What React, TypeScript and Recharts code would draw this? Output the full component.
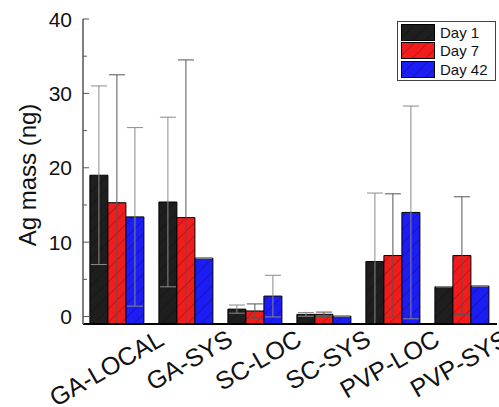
import { Bar, BarChart, ErrorBar, Legend, XAxis, YAxis } from "recharts";

const categories = ["GA-LOCAL", "GA-SYS", "SC-LOC", "SC-SYS", "PVP-LOC", "PVP-SYS"];
const day1 = [19.0, 15.4, 1.0, 0.3, 7.4, 4.0];
const day7 = [15.3, 13.3, 0.75, 0.3, 8.2, 8.2];
const day42 = [13.4, 7.85, 2.75, 0.05, 14.0, 4.1];
const err1 = [12.0, 11.4, 0.55, 0.25, 9.2, 0];
const err7 = [17.2, 21.2, 0.95, 0.3, 8.3, 7.9];
const err42 = [12.0, 0, 2.8, 0, 14.3, 0];
const yTicks = [0, 5, 10, 15, 20, 25, 30, 35, 40];

const Y_MIN = -1;
const Y_MAX = 40;
const FONT = "Arial, 'Liberation Sans', sans-serif";

const series = [
  { key: "day1", err: "e1", name: "Day 1", color: "#1e1e1e", errColor: "#8a8a8a" },
  { key: "day7", err: "e7", name: "Day 7", color: "#f21c1c", errColor: "#555555" },
  { key: "day42", err: "e42", name: "Day 42", color: "#1c1cf5", errColor: "#888888" },
];

// the plot clips error bars at the bottom axis, so the lower arm stops there
const arm = (value: number, err: number) => [Math.min(err, value - Y_MIN), err];

const data = categories.map((name, i) => ({
  name,
  day1: day1[i],
  day7: day7[i],
  day42: day42[i],
  e1: arm(day1[i], err1[i]),
  e7: arm(day7[i], err7[i]),
  e42: arm(day42[i], err42[i]),
}));

function HatchDefs() {
  return (
    <svg width={0} height={0} style={{ position: "absolute" }}>
      <defs>
        {series.map((s) => (
          <pattern
            key={s.key}
            id={`hatch-${s.key}`}
            patternUnits="userSpaceOnUse"
            width={9.5}
            height={9.5}
            patternTransform="rotate(45)"
          >
            <rect width={9.5} height={9.5} fill={s.color} />
            <line x1={0} y1={0} x2={0} y2={9.5} stroke="#000" strokeWidth={1} strokeOpacity={0.45} />
          </pattern>
        ))}
      </defs>
    </svg>
  );
}

function YTick({ x, y, payload }: any) {
  const axisX = x + 11;
  const major = payload.value % 10 === 0;
  return (
    <g>
      <line x1={axisX} x2={axisX + (major ? 6 : 4)} y1={y} y2={y} stroke="#555" strokeWidth={1} />
      {major && (
        <text x={x} y={y} textAnchor="end" dominantBaseline="central" fontSize={21} fill="#111" fontFamily={FONT}>
          {payload.value}
        </text>
      )}
    </g>
  );
}

function XTick({ x, y, payload }: any) {
  const tx = x + 48;
  const ty = y + 20;
  return (
    <text
      x={tx}
      y={ty}
      textAnchor="end"
      fontSize={25}
      fill="#111"
      fontFamily={FONT}
      transform={`rotate(-30, ${tx}, ${ty})`}
    >
      {payload.value}
    </text>
  );
}

function YLabel() {
  return (
    <text
      x={27}
      y={175}
      textAnchor="middle"
      dominantBaseline="central"
      fontSize={24}
      fill="#111"
      fontFamily={FONT}
      transform="rotate(-90, 27, 175)"
    >
      Ag mass (ng)
    </text>
  );
}

function LegendBox() {
  return (
    <div
      style={{
        border: "1.5px solid #444",
        background: "#fff",
        padding: "1px 3px",
        width: 99,
        boxSizing: "border-box",
        fontFamily: FONT,
      }}
    >
      {series.map((s) => (
        <div key={s.key} style={{ display: "flex", alignItems: "center", height: 18.5, whiteSpace: "nowrap" }}>
          <svg width={34} height={17} style={{ display: "block", flexShrink: 0 }}>
            <rect x={0.5} y={0.5} width={33} height={16} fill={`url(#hatch-${s.key})`} stroke="#000" />
          </svg>
          <span style={{ fontSize: 15, marginLeft: 5, color: "#111", lineHeight: "17px" }}>{s.name}</span>
        </div>
      ))}
    </div>
  );
}

export default function App() {
  return (
    <div style={{ position: "absolute", left: 0, top: 0, width: 499, height: 407, background: "#fff" }}>
      <HatchDefs />
      <BarChart
        width={499}
        height={407}
        data={data}
        margin={{ top: 19, right: 2, left: 0, bottom: 0 }}
        barCategoryGap="10%"
        barGap={0}
      >
        <XAxis
          dataKey="name"
          height={83}
          interval={0}
          tickLine={false}
          tickSize={0}
          tickMargin={0}
          tick={<XTick />}
          axisLine={{ stroke: "#000", strokeWidth: 2 }}
        />
        <XAxis xAxisId="top" orientation="top" dataKey="name" height={0} tick={false} tickLine={false} axisLine={{ stroke: "#000", strokeWidth: 1.5 }} />
        <YAxis
          width={83}
          domain={[Y_MIN, Y_MAX]}
          ticks={yTicks}
          interval={0}
          allowDataOverflow
          tickLine={false}
          tickSize={0}
          tickMargin={11}
          tick={<YTick />}
          axisLine={{ stroke: "#555", strokeWidth: 1.5 }}
          label={{ content: () => <YLabel /> }}
        />
        <YAxis yAxisId="right" orientation="right" width={0} domain={[Y_MIN, Y_MAX]} allowDataOverflow tick={false} tickLine={false} axisLine={{ stroke: "#000", strokeWidth: 1.5 }} />
        <Legend
          layout="horizontal"
          verticalAlign="middle"
          align="center"
          wrapperStyle={{ top: 21, left: 397, width: 99, height: 58 }}
          content={() => <LegendBox />}
        />
        {series.map((s) => (
          <Bar
            key={s.key}
            dataKey={(d: any) => [Y_MIN, d[s.key]]}
            name={s.name}
            fill={`url(#hatch-${s.key})`}
            stroke="#000"
            strokeWidth={1}
            isAnimationActive={false}
          >
            <ErrorBar dataKey={s.err} width={8} stroke={s.errColor} strokeWidth={1} direction="y" isAnimationActive={false} />
          </Bar>
        ))}
      </BarChart>
    </div>
  );
}
